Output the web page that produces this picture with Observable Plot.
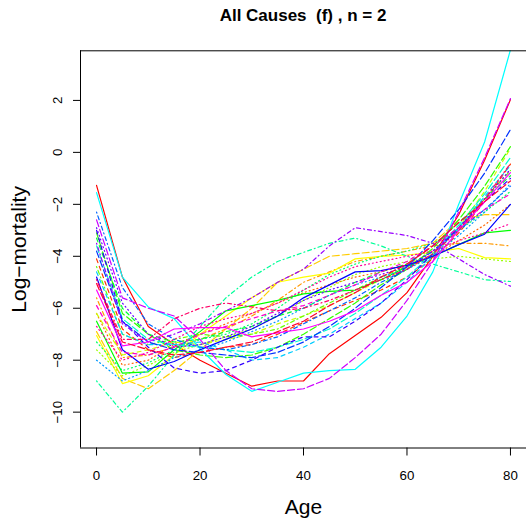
<!DOCTYPE html>
<html>
<head>
<meta charset="utf-8">
<script src="https://cdn.jsdelivr.net/npm/d3@7"></script>
<script src="https://cdn.jsdelivr.net/npm/@observablehq/plot@0.6"></script>
<style>
  html, body { margin: 0; padding: 0; background: #fff; }
  body { width: 526px; height: 519px; overflow: hidden; font-family: "Liberation Sans", Arial, Helvetica, sans-serif; }
  #title { box-sizing: border-box; height: 36px; width: 446px; margin-left: 80px; padding-top: 6px;
           font-size: 17px; line-height: 20px; font-weight: bold; text-align: center; white-space: pre; color: #000; }
  #chart svg { display: block; }
</style>
</head>
<body>
<div id="title">All Causes  (f) , n = 2</div>
<div id="chart"></div>
<script>
// ---- data ----
const ages = [0, 5, 10, 15, 20, 25, 30, 35, 40, 45, 50, 55, 60, 65, 70, 75, 80];
const xTicks = [0, 20, 40, 60, 80];
const yTicks = [-10, -8, -6, -4, -2, 0, 2];
const titleText = "All Causes  (f) , n = 2";
const xLabel = "Age";
const yLabel = "Log\u2212mortality";

const s00 = [-1.27, -4.8, -6.7, -7.4, -8.0, -8.5, -9.0, -8.8, -8.8, -7.75, -7.05, -6.35, -5.4, -4.0, -2.4, -0.3, 2.03];
const s01 = [-4.1, -6.8, -7.6, -7.9, -7.7, -7.5, -7.4, -7.0, -6.55, -6.1, -5.7, -5.3, -4.8, -4.1, -3.1, -1.9, -0.45];
const s02 = [-6.2, -8.2, -8.0, -7.4, -7.0, -6.6, -6.2, -5.8, -5.4, -5.1, -4.8, -4.6, -4.3, -4.0, -3.4, -2.8, -2.0];
const s03 = [-5.6, -7.9, -7.8, -7.5, -7.2, -6.8, -6.3, -5.7, -5.0, -4.6, -4.2, -4.0, -3.8, -3.6, -3.5, -3.5, -3.6];
const s04 = [-6.9, -8.7, -9.1, -8.4, -7.6, -6.8, -6.0, -5.0, -4.5, -4.0, -3.9, -3.8, -3.7, -3.5, -2.6, -2.4, -2.4];
const s05 = [-7.05, -8.9, -8.6, -7.8, -7.0, -6.3, -5.6, -5.0, -4.8, -4.65, -4.1, -4.0, -3.95, -3.85, -3.7, -4.05, -4.1];
const s06 = [-6.2, -7.8, -7.6, -7.3, -7.4, -7.2, -7.0, -6.6, -6.3, -5.9, -5.4, -4.9, -4.5, -3.9, -2.9, -1.5, 0.15];
const s07 = [-7.6, -8.6, -8.2, -7.7, -7.4, -7.1, -6.8, -6.3, -5.7, -5.2, -4.7, -4.4, -4.2, -4.1, -4.0, -4.1, -4.2];
const s08 = [-4.4, -7.0, -7.4, -7.2, -7.0, -7.1, -7.0, -6.8, -6.3, -5.8, -5.3, -4.8, -4.4, -3.8, -2.9, -1.8, -0.7];
const s09 = [-3.1, -6.2, -7.0, -7.6, -7.8, -7.9, -7.8, -7.5, -7.0, -6.4, -5.8, -5.1, -4.5, -3.7, -2.6, -1.3, 0.22];
const s10 = [-6.5, -8.5, -8.45, -7.6, -6.9, -6.1, -5.9, -5.7, -5.45, -5.35, -5.3, -4.9, -4.4, -4.0, -3.55, -3.1, -3.0];
const s11 = [-3.3, -6.0, -7.0, -7.3, -7.2, -6.9, -6.7, -6.3, -6.0, -5.5, -5.0, -4.6, -4.3, -3.6, -2.7, -1.8, -0.9];
const s12 = [-7.3, -8.4, -8.1, -7.6, -7.2, -7.0, -6.6, -6.0, -5.3, -4.7, -4.3, -4.0, -3.8, -3.5, -3.0, -2.3, -1.5];
const s13 = [-8.8, -10.0, -9.0, -7.8, -6.7, -5.6, -4.8, -4.2, -3.85, -3.5, -3.3, -3.6, -4.0, -4.3, -4.6, -4.9, -4.97];
const s14 = [-3.6, -6.4, -7.2, -7.4, -7.5, -7.6, -7.7, -7.5, -7.2, -6.8, -6.2, -5.5, -4.8, -3.9, -2.8, -1.6, -0.2];
const s15 = [-1.55, -4.8, -5.95, -6.4, -7.55, -8.55, -9.2, -8.85, -8.5, -8.4, -8.35, -7.5, -6.3, -4.6, -2.0, 0.4, 3.95];
const s16 = [-4.6, -7.0, -7.4, -7.4, -7.3, -7.6, -8.0, -7.9, -7.5, -7.0, -6.4, -5.8, -5.0, -4.0, -2.9, -1.7, -0.5];
const s17 = [-8.0, -8.8, -8.4, -7.9, -7.6, -7.3, -6.9, -6.5, -6.0, -5.5, -5.1, -4.8, -4.5, -4.0, -3.2, -2.3, -1.2];
const s18 = [-2.3, -5.2, -6.6, -7.2, -7.5, -7.6, -7.4, -7.1, -6.6, -6.1, -5.6, -5.0, -4.5, -3.8, -3.0, -2.2, -1.3];
const s19 = [-3.8, -6.5, -7.3, -7.6, -7.7, -7.8, -7.9, -7.7, -7.3, -6.7, -6.0, -5.2, -4.4, -3.4, -2.2, -0.8, 0.88];
const s20 = [-4.8, -7.6, -8.35, -8.05, -7.6, -7.2, -6.8, -6.3, -5.6, -5.1, -4.6, -4.55, -4.35, -4.0, -3.55, -3.15, -2.0];
const s21 = [-3.0, -6.5, -7.5, -8.3, -8.5, -8.4, -8.0, -7.5, -7.1, -7.1, -6.5, -5.8, -4.9, -3.9, -2.9, -1.9, -1.0];
const s22 = [-2.9, -5.8, -7.0, -7.5, -7.4, -7.1, -6.7, -6.2, -5.7, -5.3, -5.0, -4.7, -4.4, -3.8, -2.9, -1.8, -0.65];
const s23 = [-3.5, -6.6, -7.3, -7.0, -6.6, -6.1, -5.6, -5.0, -4.5, -3.6, -2.9, -3.05, -3.2, -3.5, -4.1, -4.7, -5.15];
const s24 = [-2.6, -5.6, -6.0, -6.3, -7.2, -8.4, -9.1, -9.2, -9.1, -8.7, -7.9, -7.0, -5.7, -4.2, -2.3, -0.2, 2.07];
const s25 = [-5.3, -7.45, -7.3, -6.8, -6.75, -6.75, -7.1, -6.95, -6.8, -6.5, -6.1, -5.5, -5.0, -4.2, -3.0, -1.9, -0.78];
const s26 = [-5.9, -7.7, -7.8, -7.5, -7.0, -6.7, -6.4, -6.1, -5.9, -5.5, -5.1, -4.6, -4.2, -3.6, -2.9, -2.2, -1.6];
const s27 = [-6.7, -8.0, -7.7, -7.2, -6.7, -6.4, -6.2, -5.8, -5.3, -4.8, -4.4, -4.2, -4.0, -3.8, -3.4, -3.1, -2.75];
const s28 = [-4.9, -7.2, -7.2, -6.4, -6.0, -5.8, -5.95, -6.1, -6.0, -5.7, -5.3, -4.9, -4.5, -3.9, -3.0, -1.8, -0.43];
const s29 = [-5.05, -7.3, -7.6, -7.8, -7.7, -7.5, -7.3, -6.9, -6.5, -5.9, -5.4, -4.8, -4.3, -3.6, -2.7, -1.9, -1.1];

const series = [s00, s01, s02, s03, s04, s05, s06, s07, s08, s09, s10, s11, s12, s13, s14,
                s15, s16, s17, s18, s19, s20, s21, s22, s23, s24, s25, s26, s27, s28, s29];

// ---- chart ----
document.getElementById("title").textContent = titleText;

const rows = series.flatMap((vals, k) => vals.map((v, j) => ({age: ages[j], value: v, k})));
const dashes = [null, "4,4", "1,3", "1,3,4,3", "7,3"];
const n = series.length;
const colorOf = k => d3.hsl(360 * k / n, 1, 0.5).formatHex();

const xDom = [-3.1, 83.1];
const yDom = [-11.38, 3.91];
const fmt = d => (d < 0 ? "\u2212" : "") + Math.abs(d);

const lineMarks = series.map((_, k) => {
  const opts = {x: "age", y: "value", stroke: colorOf(k), strokeWidth: 1.2, clip: true, strokeLinejoin: "round"};
  if (dashes[k % 5]) opts.strokeDasharray = dashes[k % 5];
  return Plot.line(rows.filter(r => r.k === k), opts);
});

const chart = Plot.plot({
  width: 526,
  height: 483,
  marginLeft: 80,
  marginRight: 0,
  marginTop: 14.3,
  marginBottom: 71.5,
  style: {fontFamily: "'Liberation Sans', Arial, Helvetica, sans-serif", background: "#fff", color: "#000", overflow: "visible"},
  x: {domain: xDom},
  y: {domain: yDom},
  marks: [
    ...lineMarks,
    Plot.ruleY([yDom[1]], {stroke: "#000", strokeWidth: 1}),
    Plot.ruleY([yDom[0]], {stroke: "#000", strokeWidth: 1}),
    Plot.ruleX([xDom[0]], {stroke: "#000", strokeWidth: 1}),
    Plot.axisX({ticks: xTicks, tickSize: 8, tickFormat: () => "", label: null, stroke: "#000"}),
    Plot.axisY({ticks: yTicks, tickSize: 7, tickFormat: () => "", label: null, stroke: "#000"}),
    Plot.text(xTicks, {x: d => d, frameAnchor: "bottom", text: d => fmt(d), dy: 27.6, fontSize: 13.3, lineAnchor: "middle", fill: "#000"}),
    Plot.text(yTicks, {y: d => d, frameAnchor: "left", text: d => fmt(d), rotate: -90, dx: -23.2, fontSize: 13.3, lineAnchor: "middle", textAnchor: "middle", fill: "#000"}),
    Plot.text([xLabel], {frameAnchor: "bottom", text: d => d, dy: 59.6, fontSize: 21, lineAnchor: "middle", fill: "#000"}),
    Plot.text([yLabel], {frameAnchor: "left", text: d => d, rotate: -90, dx: -61.7, fontSize: 21, lineAnchor: "middle", textAnchor: "middle", fill: "#000"})
  ]
});
document.getElementById("chart").append(chart);
</script>
</body>
</html>
